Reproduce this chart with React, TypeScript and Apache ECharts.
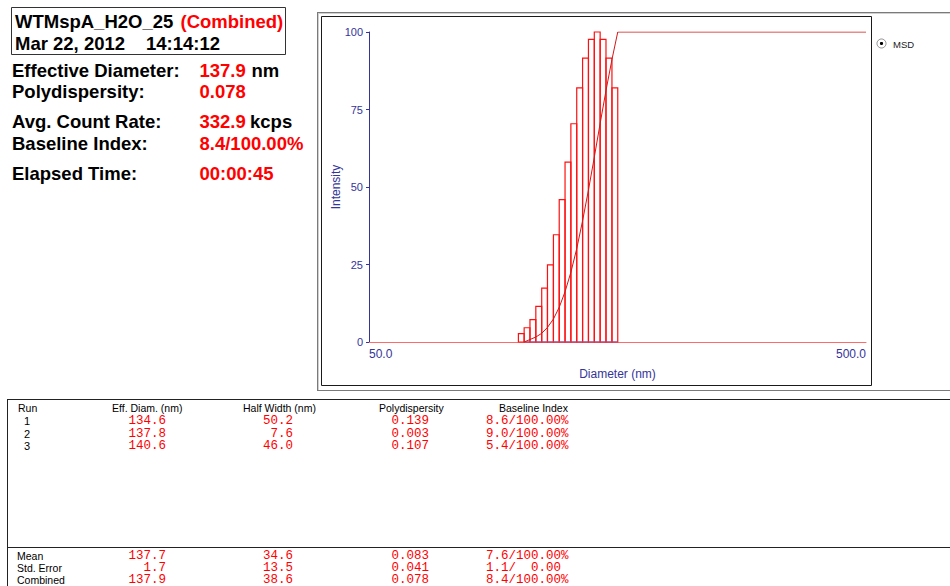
import React, { useEffect, useRef } from "react";
import * as echarts from "echarts";

// ---------- chart data ----------
const binEdges = [99.9, 102.6, 105.4, 108.3, 111.3, 114.3, 117.5, 120.7, 124.0, 127.4, 130.9, 134.5, 138.2, 142.0, 145.9, 149.9, 154.1, 158.3];
const intensity = [2.7, 4.6, 7.2, 11.5, 17.4, 24.9, 34.6, 45.9, 58.0, 70.4, 82.0, 91.6, 97.6, 100, 97.6, 91.6, 82.0];
const cumDiam = [102.6, 105.4, 108.3, 111.3, 114.3, 117.5, 120.7, 124.0, 127.4, 130.9, 134.5, 138.2, 142.0, 145.9, 149.9, 154.1, 158.3, 500];
const cumValue = [0, 0.8, 1.6, 2.8, 4.7, 7.4, 11.2, 16.2, 22.5, 30.1, 39.1, 49.0, 59.6, 70.5, 81.1, 91.1, 100, 100];
const xTickLabels = ["50.0", "500.0"];
const legendName = "MSD";

// ---------- info panel ----------
const sampleName = "WTMspA_H2O_25";
const sampleTag = "(Combined)";
const sampleDate = "Mar 22, 2012";
const sampleTime = "14:14:12";
const infoLabels = ["Effective Diameter:", "Polydispersity:", "Avg. Count Rate:", "Baseline Index:", "Elapsed Time:"];
const infoValues = ["137.9", "0.078", "332.9", "8.4/100.00%", "00:00:45"];
const infoUnits = ["nm", "", "kcps", "", ""];

// ---------- table ----------
const tableHeaders = ["Run", "Eff. Diam. (nm)", "Half Width (nm)", "Polydispersity", "Baseline Index"];
const runLabels = ["1", "2", "3"];
const runEffDiam = ["134.6", "137.8", "140.6"];
const runHalfWidth = ["50.2", "7.6", "46.0"];
const runPoly = ["0.139", "0.003", "0.107"];
const runBaseline = ["8.6/100.00%", "9.0/100.00%", "5.4/100.00%"];
const sumLabels = ["Mean", "Std. Error", "Combined"];
const sumEffDiam = ["137.7", "1.7", "137.9"];
const sumHalfWidth = ["34.6", "13.5", "38.6"];
const sumPoly = ["0.083", "0.041", "0.078"];
const sumBaseline = ["7.6/100.00%", "1.1/  0.00", "8.4/100.00%"];

const SANS = "Liberation Sans, Arial, sans-serif";
const MONO = "Liberation Mono, Courier New, monospace";
const NAVY = "#34349a";
const RED = "#ff0000";

function txt(text: string, x: number, y: number, opts: any = {}) {
  const style: any = {
    text,
    fill: opts.fill || "#000",
    fontSize: opts.size || 11,
    fontWeight: opts.weight || "normal",
    fontFamily: opts.family || SANS,
    textAlign: opts.align || "left",
    textVerticalAlign: "middle",
  };
  if (opts.lineHeight) style.lineHeight = opts.lineHeight;
  return { type: "text", x, y, silent: true, style };
}

function hline(x1: number, x2: number, y: number, stroke: string) {
  return { type: "line", silent: true, shape: { x1, y1: y, x2, y2: y }, style: { stroke, lineWidth: 1 } };
}
function vline(x: number, y1: number, y2: number, stroke: string) {
  return { type: "line", silent: true, shape: { x1: x, y1, x2: x, y2 }, style: { stroke, lineWidth: 1 } };
}

export default function App() {
  const ref = useRef<HTMLDivElement>(null);

  useEffect(() => {
    if (!ref.current) return;
    const chart = echarts.init(ref.current, undefined, { renderer: "svg" });

    const graphics: any[] = [];
    // Info box
    graphics.push({
      type: "rect",
      silent: true,
      shape: { x: 11.5, y: 7.5, width: 274, height: 47 },
      style: { fill: "none", stroke: "#333", lineWidth: 1 },
    });
    const big = { size: 18.5, weight: "bold" };
    graphics.push(txt(sampleName, 15, 21, big));
    graphics.push(txt(sampleTag, 180.5, 21, { ...big, fill: RED }));
    graphics.push(txt(sampleDate, 15, 43, big));
    graphics.push(txt(sampleTime, 146, 43, big));
    const infoY = [70, 91, 121, 143, 173];
    const unitX = [251.5, 0, 250, 0, 0];
    infoLabels.forEach((l, i) => {
      graphics.push(txt(l, 12, infoY[i], big));
      graphics.push(txt(infoValues[i], 199.5, infoY[i], { ...big, fill: RED }));
      if (infoUnits[i]) graphics.push(txt(infoUnits[i], unitX[i], infoY[i], big));
    });

    // Chart frames
    graphics.push(hline(317, 950, 12.5, "#7a7a7a"));
    graphics.push(hline(318, 950, 13.5, "#d0d0d0"));
    graphics.push(vline(317.5, 12, 391, "#7a7a7a"));
    graphics.push(vline(318.5, 13, 390, "#d0d0d0"));
    graphics.push(hline(317, 950, 390.5, "#7a7a7a"));
    graphics.push({
      type: "rect",
      silent: true,
      shape: { x: 321.5, y: 16.5, width: 550, height: 369 },
      style: { fill: "none", stroke: "#1a1a1a", lineWidth: 1 },
    });

    // Legend (radio button)
    graphics.push({ type: "circle", silent: true, shape: { cx: 881.5, cy: 43.5, r: 4.5 }, style: { fill: "#fff", stroke: "#8a8a8a", lineWidth: 1 } });
    graphics.push({ type: "circle", silent: true, shape: { cx: 881.5, cy: 43.5, r: 1.6 }, style: { fill: "#000" } });
    graphics.push(txt(legendName, 893, 44, { size: 9.5, fill: "#222" }));

    // Table
    graphics.push(hline(7, 950, 399.5, "#222"));
    graphics.push(vline(7.5, 399, 586, "#222"));
    graphics.push(hline(7, 950, 547.5, "#222"));
    const headX = [18, 112, 243, 379, 499];
    tableHeaders.forEach((h, i) => graphics.push(txt(h, headX[i], 407.5, { size: 10.5 })));
    const num = { family: MONO, size: 12.5, lineHeight: 11, fill: RED };
    const rowY = [421, 433.5, 446];
    runLabels.forEach((r, i) => {
      graphics.push(txt(r, 24, rowY[i], { size: 11, lineHeight: 11 }));
      graphics.push(txt(runEffDiam[i], 166, rowY[i], { ...num, align: "right" }));
      graphics.push(txt(runHalfWidth[i], 293, rowY[i], { ...num, align: "right" }));
      graphics.push(txt(runPoly[i], 429, rowY[i], { ...num, align: "right" }));
      graphics.push(txt(runBaseline[i], 486, rowY[i], num));
    });
    const sumY = [555.5, 567.8, 580];
    sumLabels.forEach((r, i) => {
      graphics.push(txt(r, 17, sumY[i], { size: 10.5, lineHeight: 11 }));
      graphics.push(txt(sumEffDiam[i], 166, sumY[i], { ...num, align: "right" }));
      graphics.push(txt(sumHalfWidth[i], 293, sumY[i], { ...num, align: "right" }));
      graphics.push(txt(sumPoly[i], 429, sumY[i], { ...num, align: "right" }));
      graphics.push(txt(sumBaseline[i], 486, sumY[i], num));
    });

    const barData = intensity.map((v, i) => [binEdges[i], binEdges[i + 1], v]);
    const cumData = cumDiam.map((d, i) => [d, cumValue[i]]);
    const blueBase = [[binEdges[1], 0], [binEdges[binEdges.length - 1], 0]];

    chart.setOption({
      animation: false,
      backgroundColor: "#fff",
      grid: { left: 369, top: 32, width: 497, height: 310 },
      xAxis: {
        type: "log",
        logBase: 10,
        min: 50,
        max: 500,
        name: "Diameter (nm)",
        nameLocation: "middle",
        nameGap: 26,
        nameMoveOverlap: false,
        nameTextStyle: { color: NAVY, fontSize: 12, fontFamily: SANS },
        axisLine: { lineStyle: { color: "#ff6a6a", width: 1 } },
        axisTick: { show: false },
        splitLine: { show: false },
        axisLabel: {
          color: NAVY,
          fontSize: 12,
          fontFamily: SANS,
          margin: 6,
          showMinLabel: true,
          showMaxLabel: true,
          alignMinLabel: "left",
          alignMaxLabel: "right",
          formatter: (v: number) => (Math.abs(v - 50) < 0.01 ? xTickLabels[0] : Math.abs(v - 500) < 0.01 ? xTickLabels[1] : ""),
        },
      },
      yAxis: {
        type: "value",
        min: 0,
        max: 100,
        interval: 25,
        name: "Intensity",
        nameLocation: "middle",
        nameGap: 27,
        nameMoveOverlap: false,
        nameTextStyle: { color: NAVY, fontSize: 12, fontFamily: SANS },
        axisLine: { show: true, lineStyle: { color: NAVY, width: 1 } },
        axisTick: { show: true, length: 3, lineStyle: { color: NAVY } },
        splitLine: { show: false },
        axisLabel: { color: NAVY, fontSize: 11, fontFamily: SANS, margin: 6 },
      },
      graphic: graphics,
      series: [
        {
          type: "custom",
          name: "MSD",
          z: 2,
          encode: { x: [0, 1], y: 2 },
          data: barData,
          renderItem: (params: any, api: any) => {
            const p0 = api.coord([api.value(0), 0]);
            const p1 = api.coord([api.value(1), api.value(2)]);
            return {
              type: "rect",
              shape: { x: p0[0], y: p1[1], width: p1[0] - p0[0], height: p0[1] - p1[1] },
              style: { fill: "rgba(255,255,255,0)", stroke: "#ff1010", lineWidth: 1.2 },
            };
          },
        },
        {
          type: "line",
          z: 3,
          data: blueBase,
          symbol: "none",
          lineStyle: { color: "#6a6ac8", width: 1 },
        },
        {
          type: "line",
          z: 4,
          data: cumData,
          symbol: "none",
          lineStyle: { color: "#d01818", width: 1 },
        },
      ],
    });

    return () => chart.dispose();
  }, []);

  return <div ref={ref} style={{ position: "fixed", left: 0, top: 0, width: 950, height: 586, background: "#fff" }} />;
}
